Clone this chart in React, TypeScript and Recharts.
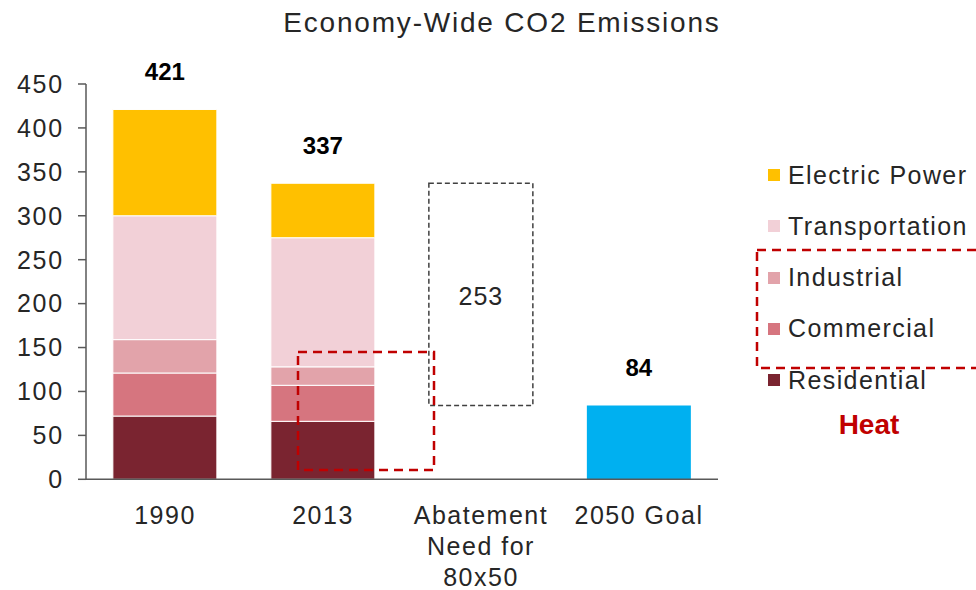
import React from "react";
import { BarChart, Bar, XAxis, YAxis, LabelList } from "recharts";

// values (Mt CO2)
const categories = ["1990", "2013", "Abatement\nNeed for\n80x50", "2050 Goal"];
const residential = [72, 66, 0, 0];
const commercial = [49, 41, 0, 0];
const industrial = [38, 21, 0, 0];
const transportation = [141, 147, 0, 0];
const electricPower = [121, 62, 0, 0];
const abatementBase = [0, 0, 84, 0];
const abatement = [0, 0, 253, 0];
const goal = [0, 0, 0, 84];
const totals = [421, 337, null, 84];
const yTicks = [0, 50, 100, 150, 200, 250, 300, 350, 400, 450];

const sectors = [
  { key: "residential", name: "Residential", color: "#7A2430" },
  { key: "commercial", name: "Commercial", color: "#D6757F" },
  { key: "industrial", name: "Industrial", color: "#E2A3AA" },
  { key: "transportation", name: "Transportation", color: "#F2D0D7" },
  { key: "electricPower", name: "Electric Power", color: "#FFC000" },
];

const data = categories.map((name, i) => ({
  name,
  residential: residential[i],
  commercial: commercial[i],
  industrial: industrial[i],
  transportation: transportation[i],
  electricPower: electricPower[i],
  abatementBase: abatementBase[i],
  abatement: abatement[i],
  goal: goal[i],
  total: totals[i],
}));

const FONT = "'Liberation Sans', Arial, sans-serif";

const CategoryTick = (props: any) => {
  const { x, y, payload } = props;
  const lines = String(payload.value).split("\n");
  return (
    <text
      x={x}
      y={y}
      textAnchor="middle"
      fontFamily={FONT}
      fontSize={25}
      letterSpacing={1.5}
      fill="#262626"
    >
      {lines.map((line, i) => (
        <tspan key={i} x={x} dy={i === 0 ? 37 : 31}>
          {line}
        </tspan>
      ))}
    </text>
  );
};

const TotalLabel = (props: any) => {
  const { x, y, width, value } = props;
  if (value == null) return null;
  return (
    <text
      x={x + width / 2}
      y={y - 38}
      textAnchor="middle"
      dominantBaseline="central"
      fontFamily={FONT}
      fontSize={24}
      fontWeight="bold"
      fill="#000"
    >
      {value}
    </text>
  );
};

const AbatementLabel = (props: any) => {
  const { x, y, width, height, value } = props;
  if (!value) return null;
  return (
    <text
      x={x + width / 2}
      y={y + height / 2 + 2}
      textAnchor="middle"
      dominantBaseline="central"
      fontFamily={FONT}
      fontSize={25}
      letterSpacing={1}
      fill="#262626"
    >
      {value}
    </text>
  );
};

export default function App() {
  const legendItems = [...sectors].reverse();
  return (
    <div style={{ position: "relative", width: 976, height: 590, overflow: "hidden", background: "#fff" }}>
      <style>{"body{margin:0}"}</style>
      <div
        style={{
          position: "absolute",
          left: 0,
          width: 1004,
          top: 7,
          textAlign: "center",
          fontFamily: FONT,
          fontSize: 28,
          letterSpacing: 1.8,
          color: "#262626",
        }}
      >
        Economy-Wide CO2 Emissions
      </div>
      <BarChart
        width={976}
        height={590}
        data={data}
        margin={{ top: 84, right: 258, bottom: 0, left: 0 }}
        barCategoryGap="17%"
      >
        <YAxis
          width={86}
          domain={[0, 450]}
          ticks={yTicks}
          interval={0}
          axisLine={{ stroke: "#595959", strokeWidth: 1.5 }}
          tickLine={{ stroke: "#595959", strokeWidth: 1.5 }}
          tickSize={8}
          tickMargin={14}
          tick={{ fontFamily: FONT, fontSize: 25, fill: "#262626", letterSpacing: 1.8 }}
        />
        <XAxis
          dataKey="name"
          height={110.7}
          axisLine={{ stroke: "#595959", strokeWidth: 1.5 }}
          tickLine={false}
          interval={0}
          tick={<CategoryTick />}
        />
        {sectors.map((s) => (
          <Bar
            key={s.key}
            dataKey={s.key}
            name={s.name}
            stackId="a"
            fill={s.color}
            stroke="#fff"
            strokeWidth={1}
            isAnimationActive={false}
          >
            {s.key === "electricPower" && <LabelList dataKey="total" content={<TotalLabel />} />}
          </Bar>
        ))}
        <Bar dataKey="abatementBase" stackId="a" fill="transparent" isAnimationActive={false} />
        <Bar
          dataKey="abatement"
          stackId="a"
          fill="#fff"
          stroke="#404040"
          strokeWidth={1.5}
          strokeDasharray="5 3"
          isAnimationActive={false}
        >
          <LabelList dataKey="abatement" content={<AbatementLabel />} />
        </Bar>
        <Bar dataKey="goal" stackId="a" fill="#00B0F0" isAnimationActive={false}>
          <LabelList dataKey="total" content={<TotalLabel />} />
        </Bar>
      </BarChart>

      {/* legend */}
      {legendItems.map((s, i) => (
        <div
          key={s.key}
          style={{
            position: "absolute",
            left: 768,
            top: 175 + i * 51.3 - 16,
            height: 32,
            display: "flex",
            alignItems: "center",
            fontFamily: FONT,
            fontSize: 25,
            letterSpacing: 1.4,
            color: "#262626",
            whiteSpace: "nowrap",
          }}
        >
          <span style={{ width: 12, height: 12, background: s.color, marginRight: 8, display: "inline-block" }} />
          {s.name}
        </div>
      ))}
      <div
        style={{
          position: "absolute",
          left: 869 - 60,
          width: 120,
          top: 426 - 17,
          textAlign: "center",
          fontFamily: FONT,
          fontSize: 28,
          fontWeight: "bold",
          color: "#C00000",
        }}
      >
        Heat
      </div>

      {/* red dashed annotation boxes */}
      <svg width={976} height={590} style={{ position: "absolute", left: 0, top: 0, pointerEvents: "none" }}>
        <rect x={298} y={352} width={136} height={118} fill="none" stroke="#C00000" strokeWidth={2.5} strokeDasharray="9 6" />
        <rect x={757} y={250} width={240} height={118} fill="none" stroke="#C00000" strokeWidth={2.5} strokeDasharray="9 6" />
      </svg>
    </div>
  );
}
